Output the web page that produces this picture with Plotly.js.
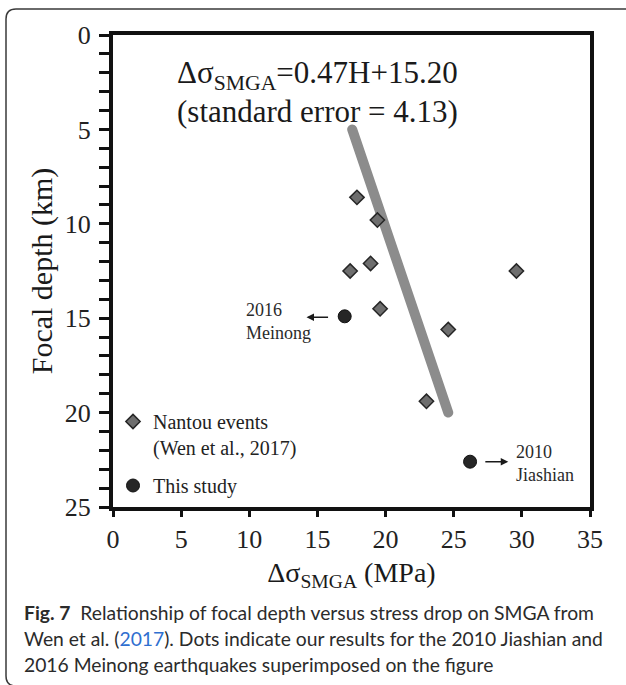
<!DOCTYPE html>
<html>
<head>
<meta charset="utf-8">
<script src="https://cdn.plot.ly/plotly-3.0.1.min.js"></script>
<style>
  html, body { margin: 0; padding: 0; background: #fff; }
  #chart { width: 626px; height: 685px; }
</style>
</head>
<body>
<div id="chart"></div>
<script>
// Nantou events (Wen et al., 2017): stress drop on SMGA (MPa) and focal depth (km)
const nantouStress = [17.9, 19.4, 18.9, 17.4, 29.6, 19.6, 24.6, 23.0];
const nantouDepth  = [8.6, 9.8, 12.1, 12.5, 12.5, 14.5, 15.6, 19.4];

// This study: 2016 Meinong and 2010 Jiashian
const studyEvents = ['2016 Meinong', '2010 Jiashian'];
const studyStress = [17.0, 26.2];
const studyDepth  = [14.9, 22.6];

// Regression: Δσ_SMGA = 0.47 H + 15.20, drawn over H = 5 … 20 km
const fitSlope = 0.47;
const fitIntercept = 15.20;
const fitDepth = [5, 20];
const fitStress = fitDepth.map(h => fitSlope * h + fitIntercept);

const xTicks = [0, 5, 10, 15, 20, 25, 30, 35];
const yTicks = [0, 5, 10, 15, 20, 25];

const serif = 'Liberation Serif, Times New Roman, serif';
const sans = 'Lato, Open Sans, sans-serif';

const traces = [
  {
    x: fitStress, y: fitDepth, mode: 'lines', type: 'scatter',
    line: { color: '#8c8c8c', width: 10 },
    showlegend: false, hoverinfo: 'skip'
  },
  {
    x: nantouStress, y: nantouDepth, mode: 'markers', type: 'scatter',
    name: 'Nantou events<br>(Wen et al., 2017)', legendgroup: 'nantou',
    marker: { symbol: 'diamond', size: 11, color: '#6e6e6e', line: { color: '#262626', width: 1.5 } }
  },
  {
    x: studyStress, y: studyDepth, mode: 'markers', type: 'scatter',
    name: 'This study', text: studyEvents, legendgroup: 'study',
    marker: { symbol: 'circle', size: 13, color: '#262626', line: { color: '#111', width: 1 } }
  }
];

// convert page pixels to paper fractions for the frame and caption
const L = 113, R = 590, T = 35, B = 507;
const px = v => (v - L) / (R - L);
const py = v => (B - v) / (B - T);

const x0 = px(6), x1 = px(650), y0 = py(9), y1 = py(686);
const rx = 10 / (R - L), ry = 10 / (B - T);
const framePath =
  `M ${x1} ${y0} L ${x0 + rx} ${y0} Q ${x0} ${y0} ${x0} ${y0 - ry} ` +
  `L ${x0} ${y1 + ry} Q ${x0} ${y1} ${x0 + rx} ${y1} L ${x1} ${y1}`;

const capFont = { family: sans, size: 19.3, color: '#2b2b2b' };
const eqFont = { family: serif, size: 31, color: '#1a1a1a' };

const layout = {
  width: 626, height: 685,
  margin: { l: L, r: 626 - R, t: T, b: 685 - B, pad: 0 },
  paper_bgcolor: '#fff', plot_bgcolor: '#fff',
  showlegend: true,
  legend: {
    x: px(113), y: py(402), xanchor: 'left', yanchor: 'top',
    bgcolor: 'rgba(0,0,0,0)', borderwidth: 0, valign: 'top',
    font: { family: serif, size: 20, color: '#222' },
    tracegroupgap: 9
  },
  xaxis: {
    range: [0, 35], tickvals: xTicks, ticks: 'outside', ticklen: 6, tickwidth: 3, tickcolor: '#111',
    showline: true, linewidth: 4, linecolor: '#111', mirror: true,
    showgrid: false, zeroline: false,
    tickfont: { family: serif, size: 26, color: '#222' },
    title: { text: 'Δσ<sub>SMGA</sub> (MPa)', font: { family: serif, size: 28, color: '#1a1a1a' }, standoff: 10 }
  },
  yaxis: {
    range: [25, 0], tickvals: yTicks, ticks: 'outside', ticklen: 10, tickwidth: 3, tickcolor: '#111',
    minor: { dtick: 1, ticks: 'outside', ticklen: 10, tickwidth: 3, tickcolor: '#111' },
    showline: true, linewidth: 4, linecolor: '#111', mirror: true,
    showgrid: false, zeroline: false, ticklabelstandoff: 3,
    tickfont: { family: serif, size: 26, color: '#222' },
    title: { text: 'Focal depth (km)', font: { family: serif, size: 30, color: '#1a1a1a' }, standoff: 4 }
  },
  shapes: [
    { type: 'path', xref: 'paper', yref: 'paper', path: framePath,
      line: { color: '#3a3a3a', width: 1.5 }, layer: 'below' }
  ],
  annotations: [
    // regression equation
    { xref: 'paper', yref: 'paper', x: px(175), y: py(75), xanchor: 'left', yanchor: 'middle',
      showarrow: false, text: 'Δσ<sub>SMGA</sub>=0.47H+15.20', font: eqFont },
    { xref: 'paper', yref: 'paper', x: px(175), y: py(111), xanchor: 'left', yanchor: 'middle',
      showarrow: false, text: '(standard error = 4.13)', font: eqFont },
    // event labels
    { xref: 'x', yref: 'y', x: 9.6, y: 15.2, xanchor: 'left', yanchor: 'middle', align: 'left',
      showarrow: false, text: '2016<br>Meinong', font: { family: serif, size: 18, color: '#2a2a2a' } },
    { xref: 'x', yref: 'y', x: 29.4, y: 22.7, xanchor: 'left', yanchor: 'middle', align: 'left',
      showarrow: false, text: '2010<br>Jiashian', font: { family: serif, size: 18, color: '#2a2a2a' } },
    // arrows pointing away from the two study events
    { xref: 'x', yref: 'y', axref: 'x', ayref: 'y', x: 14.2, y: 14.95, ax: 16.0, ay: 14.95,
      text: ' ', showarrow: true, arrowhead: 2, arrowsize: 1, arrowwidth: 1.5, arrowcolor: '#1a1a1a', standoff: 0, startstandoff: 0 },
    { xref: 'x', yref: 'y', axref: 'x', ayref: 'y', x: 29.0, y: 22.6, ax: 27.1, ay: 22.6,
      text: ' ', showarrow: true, arrowhead: 2, arrowsize: 1, arrowwidth: 1.5, arrowcolor: '#1a1a1a', standoff: 0, startstandoff: 0 },
    // caption
    { xref: 'paper', yref: 'paper', x: px(22), y: py(612), xanchor: 'left', yanchor: 'middle', showarrow: false,
      text: '<b>Fig. 7</b>  Relationship of focal depth versus stress drop on SMGA from', font: capFont },
    { xref: 'paper', yref: 'paper', x: px(22), y: py(638), xanchor: 'left', yanchor: 'middle', showarrow: false,
      text: 'Wen et al. (<span style="color:#2f6fd0">2017</span>). Dots indicate our results for the 2010 Jiashian and', font: capFont },
    { xref: 'paper', yref: 'paper', x: px(22), y: py(664), xanchor: 'left', yanchor: 'middle', showarrow: false,
      text: '2016 Meinong earthquakes superimposed on the figure', font: capFont }
  ]
};

Plotly.newPlot('chart', traces, layout, { displayModeBar: false, staticPlot: true }).then(gd => {
  // round the ends of the thick regression line
  gd.querySelectorAll('.scatterlayer .trace:first-child path.js-line')
    .forEach(p => p.style.strokeLinecap = 'round');
});
</script>
</body>
</html>
